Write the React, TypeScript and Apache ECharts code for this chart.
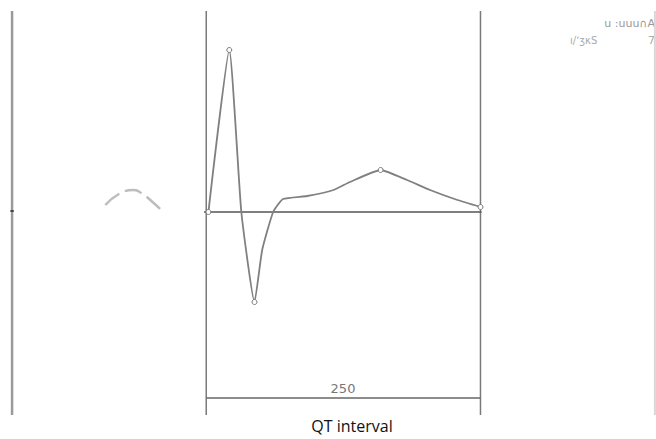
import React, { useEffect, useRef } from "react";
import * as echarts from "echarts";

// ECG waveform (time in ms from start of QRS, amplitude in mV)
const qtTime = [2, 21, 32, 44, 51, 61, 70, 92, 116, 131, 159, 183, 204, 229, 250];
const qtAmp = [0, 1.62, 0, -0.9, -0.38, 0, 0.13, 0.16, 0.22, 0.3, 0.42, 0.32, 0.22, 0.12, 0.05];
const markedPoints = [0, 1, 3, 10, 14];

// faint P-wave sketch
const pTime = [-92, -76, -66, -58, -50, -39];
const pAmp = [0.07, 0.2, 0.22, 0.18, 0.11, 0.0];

const qtStart = 0;
const qtEnd = 250;
const qtLabel = "250";
const caption = "QT interval";
const leftRuleX = -177;
const rightRuleX = 409;
const ruleTop = 2.01;
const ruleBottom = -2.03;
const bracketY = -1.86;

export default function App() {
  const ref = useRef<HTMLDivElement>(null);
  useEffect(() => {
    document.body.style.margin = "0";
    const chart = echarts.init(ref.current!, null, { renderer: "svg" });
    const vline = (x: number, color: string, w: number) => ({
      type: "line",
      data: [[x, ruleTop], [x, ruleBottom]],
      symbol: "none",
      lineStyle: { color, width: w },
      silent: true,
      z: 1,
    });
    chart.setOption({
      animation: false,
      grid: { left: 0, right: 0, top: 0, bottom: 0 },
      xAxis: { type: "value", min: -188, max: 410, show: false },
      yAxis: { type: "value", min: -2.27, max: 2.12, show: false },
      series: [
        vline(leftRuleX, "#9a9a9a", 2.5),
        vline(qtStart, "#7a7a7a", 1.5),
        vline(qtEnd, "#7a7a7a", 1.5),
        vline(rightRuleX, "#d8d8d8", 2),
        {
          type: "line",
          data: [[leftRuleX - 1.5, 0.01], [leftRuleX + 1.5, 0.01]],
          symbol: "none",
          lineStyle: { color: "#444", width: 2 },
        },
        {
          type: "line",
          data: [[qtStart - 2, 0], [qtEnd + 1, 0]],
          symbol: "none",
          lineStyle: { color: "#555", width: 1.5 },
          z: 2,
        },
        {
          type: "line",
          data: [[qtStart, bracketY], [qtEnd, bracketY]],
          symbol: "none",
          lineStyle: { color: "#666", width: 1.5 },
        },
        {
          type: "line",
          data: pTime.map((t, i) => [t, pAmp[i]]),
          symbol: "none",
          smooth: 0.5,
          lineStyle: { color: "#bdbdbd", width: 2.5, type: [18, 6] },
        },
        {
          type: "line",
          data: qtTime.map((t, i) =>
            markedPoints.includes(i)
              ? { value: [t, qtAmp[i]], symbol: "circle", symbolSize: 5 }
              : { value: [t, qtAmp[i]], symbol: "none" }
          ),
          smooth: 0.15,
          itemStyle: { color: "#fff", borderColor: "#777", borderWidth: 1 },
          lineStyle: { color: "#808080", width: 1.8 },
          z: 3,
        },
      ],
      graphic: [
        {
          type: "text",
          x: 343,
          y: 388,
          style: {
            text: qtLabel,
            fill: "#777",
            font: "13px 'DejaVu Sans'",
            align: "center",
            verticalAlign: "middle",
          },
        },
        {
          type: "text",
          x: 352,
          y: 426,
          style: {
            text: caption,
            fill: "#111",
            font: "16px 'Open Sans'",
            align: "center",
            verticalAlign: "middle",
          },
        },
        {
          type: "text",
          x: 655,
          y: 23,
          style: {
            text: "u :uuu\u2229A",
            fill: "#999",
            font: "11px 'DejaVu Sans'",
            align: "right",
            verticalAlign: "middle",
          },
        },
        {
          type: "text",
          x: 570,
          y: 40,
          style: {
            text: "\u0131/\u02bc\u0292\u03baS",
            fill: "#aaa",
            font: "10px 'DejaVu Sans'",
            align: "left",
            verticalAlign: "middle",
          },
        },
        {
          type: "text",
          x: 648,
          y: 40,
          style: { text: "7", fill: "#aaa", font: "11px 'DejaVu Sans'", verticalAlign: "middle" },
        },
      ],
    });
    return () => chart.dispose();
  }, []);
  return <div ref={ref} style={{ width: 656, height: 439 }} />;
}
